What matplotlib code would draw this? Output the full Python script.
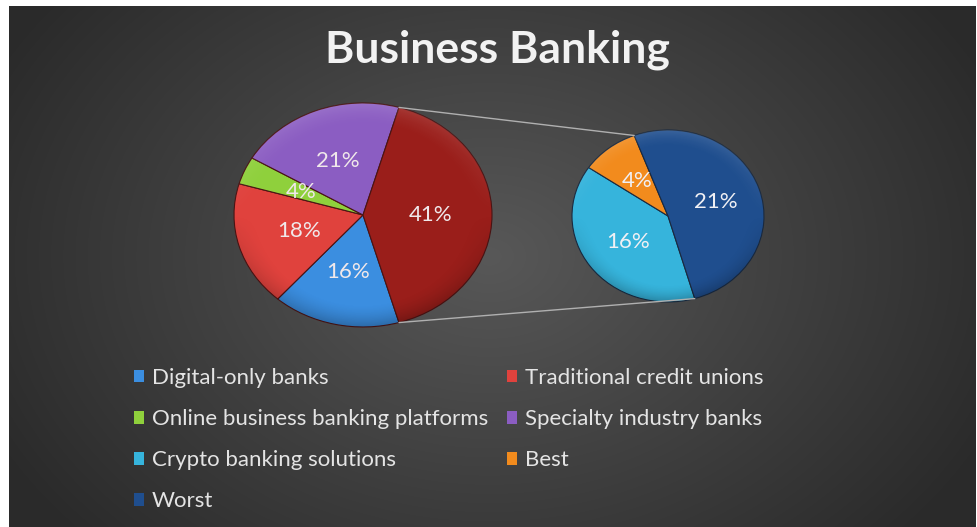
import numpy as np
import matplotlib
matplotlib.use("Agg")
import matplotlib.pyplot as plt
from matplotlib.patches import Patch, Ellipse
from matplotlib.patches import ConnectionPatch

plt.rcParams['font.family'] = ['Lato', 'DejaVu Sans']

# ---- data ----
main_labels = ["Digital-only banks", "Traditional credit unions",
               "Online business banking platforms", "Specialty industry banks"]
main_values = [16, 18, 4, 21]
sub_labels = ["Crypto banking solutions", "Best", "Worst"]
sub_values = [16, 4, 21]
title = "Business Banking"

main_colors = ["#3b8ee0", "#e0423d", "#8fd03c", "#8b5dc2"]
other_color = "#9a1e1a"
sub_colors = ["#36b4dc", "#f28b1d", "#1f4e8e"]

W, H = 978, 527
fig = plt.figure(figsize=(W / 100, H / 100), dpi=100)
fig.patch.set_facecolor("white")

def fbox(x0, y0, x1, y1):
    return [x0 / W, 1 - y1 / H, (x1 - x0) / W, (y1 - y0) / H]

# ---- background radial gradient ----
bg = fig.add_axes(fbox(9, 6, 976, 527))
bg.set_axis_off()
yy, xx = np.mgrid[0:521, 0:967]
cx, cy = 480, 250
d = np.sqrt(((xx - cx) / 560.0) ** 2 + ((yy - cy) / 420.0) ** 2)
d = np.clip(d, 0, 1)
inner = np.array([0x58, 0x58, 0x58]) / 255
outer = np.array([0x2a, 0x2a, 0x2a]) / 255
img = inner[None, None, :] * (1 - d[..., None]) + outer[None, None, :] * d[..., None]
bg.imshow(img, aspect="auto", extent=(0, 1, 0, 1), interpolation="bilinear")
bg.set_xlim(0, 1); bg.set_ylim(0, 1)

# ---- pies ----
other_value = sum(sub_values)
start = -other_value / 100 * 360 / 2  # "other" slice centered at right

def pct_fmt(vals):
    it = iter(vals)
    return lambda p: f"{next(it)}%"

def bevel(ax):
    n = 300
    gy, gx = np.mgrid[1:-1:n * 1j, -1:1:n * 1j]
    r = np.sqrt(gx ** 2 + gy ** 2)
    rim = np.clip((r - 0.80) / 0.20, 0, 1) ** 1.5
    shade = np.zeros((n, n, 4))
    shade[..., :3] = (gy > 0)[..., None] * 1.0
    shade[..., 3] = rim * np.where(gy > 0, 0.12 * gy, 0.25 * (-gy))
    im = ax.imshow(shade, extent=(-1, 1, -1, 1), origin="upper", aspect="auto",
                   zorder=3, interpolation="bilinear")
    clip = Ellipse((0, 0), 2, 2, transform=ax.transData, facecolor="none", edgecolor="none")
    ax.add_patch(clip)
    im.set_clip_path(clip)

ax1 = fig.add_axes(fbox(234, 103, 492, 327))
vals1 = main_values + [other_value]
w1, t1, a1 = ax1.pie(vals1, colors=main_colors + [other_color], startangle=start,
                     counterclock=False, radius=1, autopct=pct_fmt(vals1), pctdistance=0.52,
                     wedgeprops=dict(linewidth=0.8, edgecolor="#4a1414"),
                     textprops=dict(color="#f0e8ea", fontsize=16))
ax1.set_aspect("auto"); ax1.set_xlim(-1, 1); ax1.set_ylim(-1, 1)
bevel(ax1)
for t in a1:
    t.set_zorder(5)

ax2 = fig.add_axes(fbox(572, 130, 764, 302))
w2, t2, a2 = ax2.pie(sub_values, colors=sub_colors, startangle=start,
                     counterclock=False, radius=1, autopct=pct_fmt(sub_values), pctdistance=0.52,
                     wedgeprops=dict(linewidth=0.8, edgecolor="#1a2a40"),
                     textprops=dict(color="#f0f0f4", fontsize=16))
ax2.set_aspect("auto"); ax2.set_xlim(-1, 1); ax2.set_ylim(-1, 1)
bevel(ax2)
for t in a2:
    t.set_zorder(5)

# ---- connector lines ----
th1a = np.deg2rad(w1[-1].theta1)
th1b = np.deg2rad(w1[-1].theta2)
th_top2 = np.deg2rad(w2[-1].theta2)
th_bot2 = np.deg2rad(w2[-1].theta1)
for a_left, a_right in [(max(th1a, th1b), th_top2), (min(th1a, th1b), th_bot2)]:
    con = ConnectionPatch(xyA=(np.cos(a_left), np.sin(a_left)), coordsA=ax1.transData,
                          xyB=(np.cos(a_right), np.sin(a_right)), coordsB=ax2.transData,
                          color="#b0b0b0", linewidth=1.0)
    fig.add_artist(con)

# ---- title ----
fig.text(497 / W, 1 - 50 / H, title, ha="center", va="center", fontsize=32,
         fontweight="bold", color="#f2f2f2")

# ---- legend ----
all_labels = main_labels + sub_labels
all_colors = main_colors + sub_colors
order = [0, 2, 4, 6, 1, 3, 5]
handles = [Patch(facecolor=all_colors[i], edgecolor="none") for i in order]
labels = [all_labels[i] for i in order]
leg = fig.legend(handles, labels, ncol=2, loc="upper left",
                 bbox_to_anchor=(134 / W, 1 - 368 / H), frameon=False,
                 fontsize=16, labelcolor="#e4e4e4", handlelength=0.45, handleheight=0.5,
                 handletextpad=0.35, labelspacing=0.95, columnspacing=0.85,
                 borderpad=0, borderaxespad=0)

fig.savefig("out.png", dpi=100, facecolor=fig.get_facecolor())
